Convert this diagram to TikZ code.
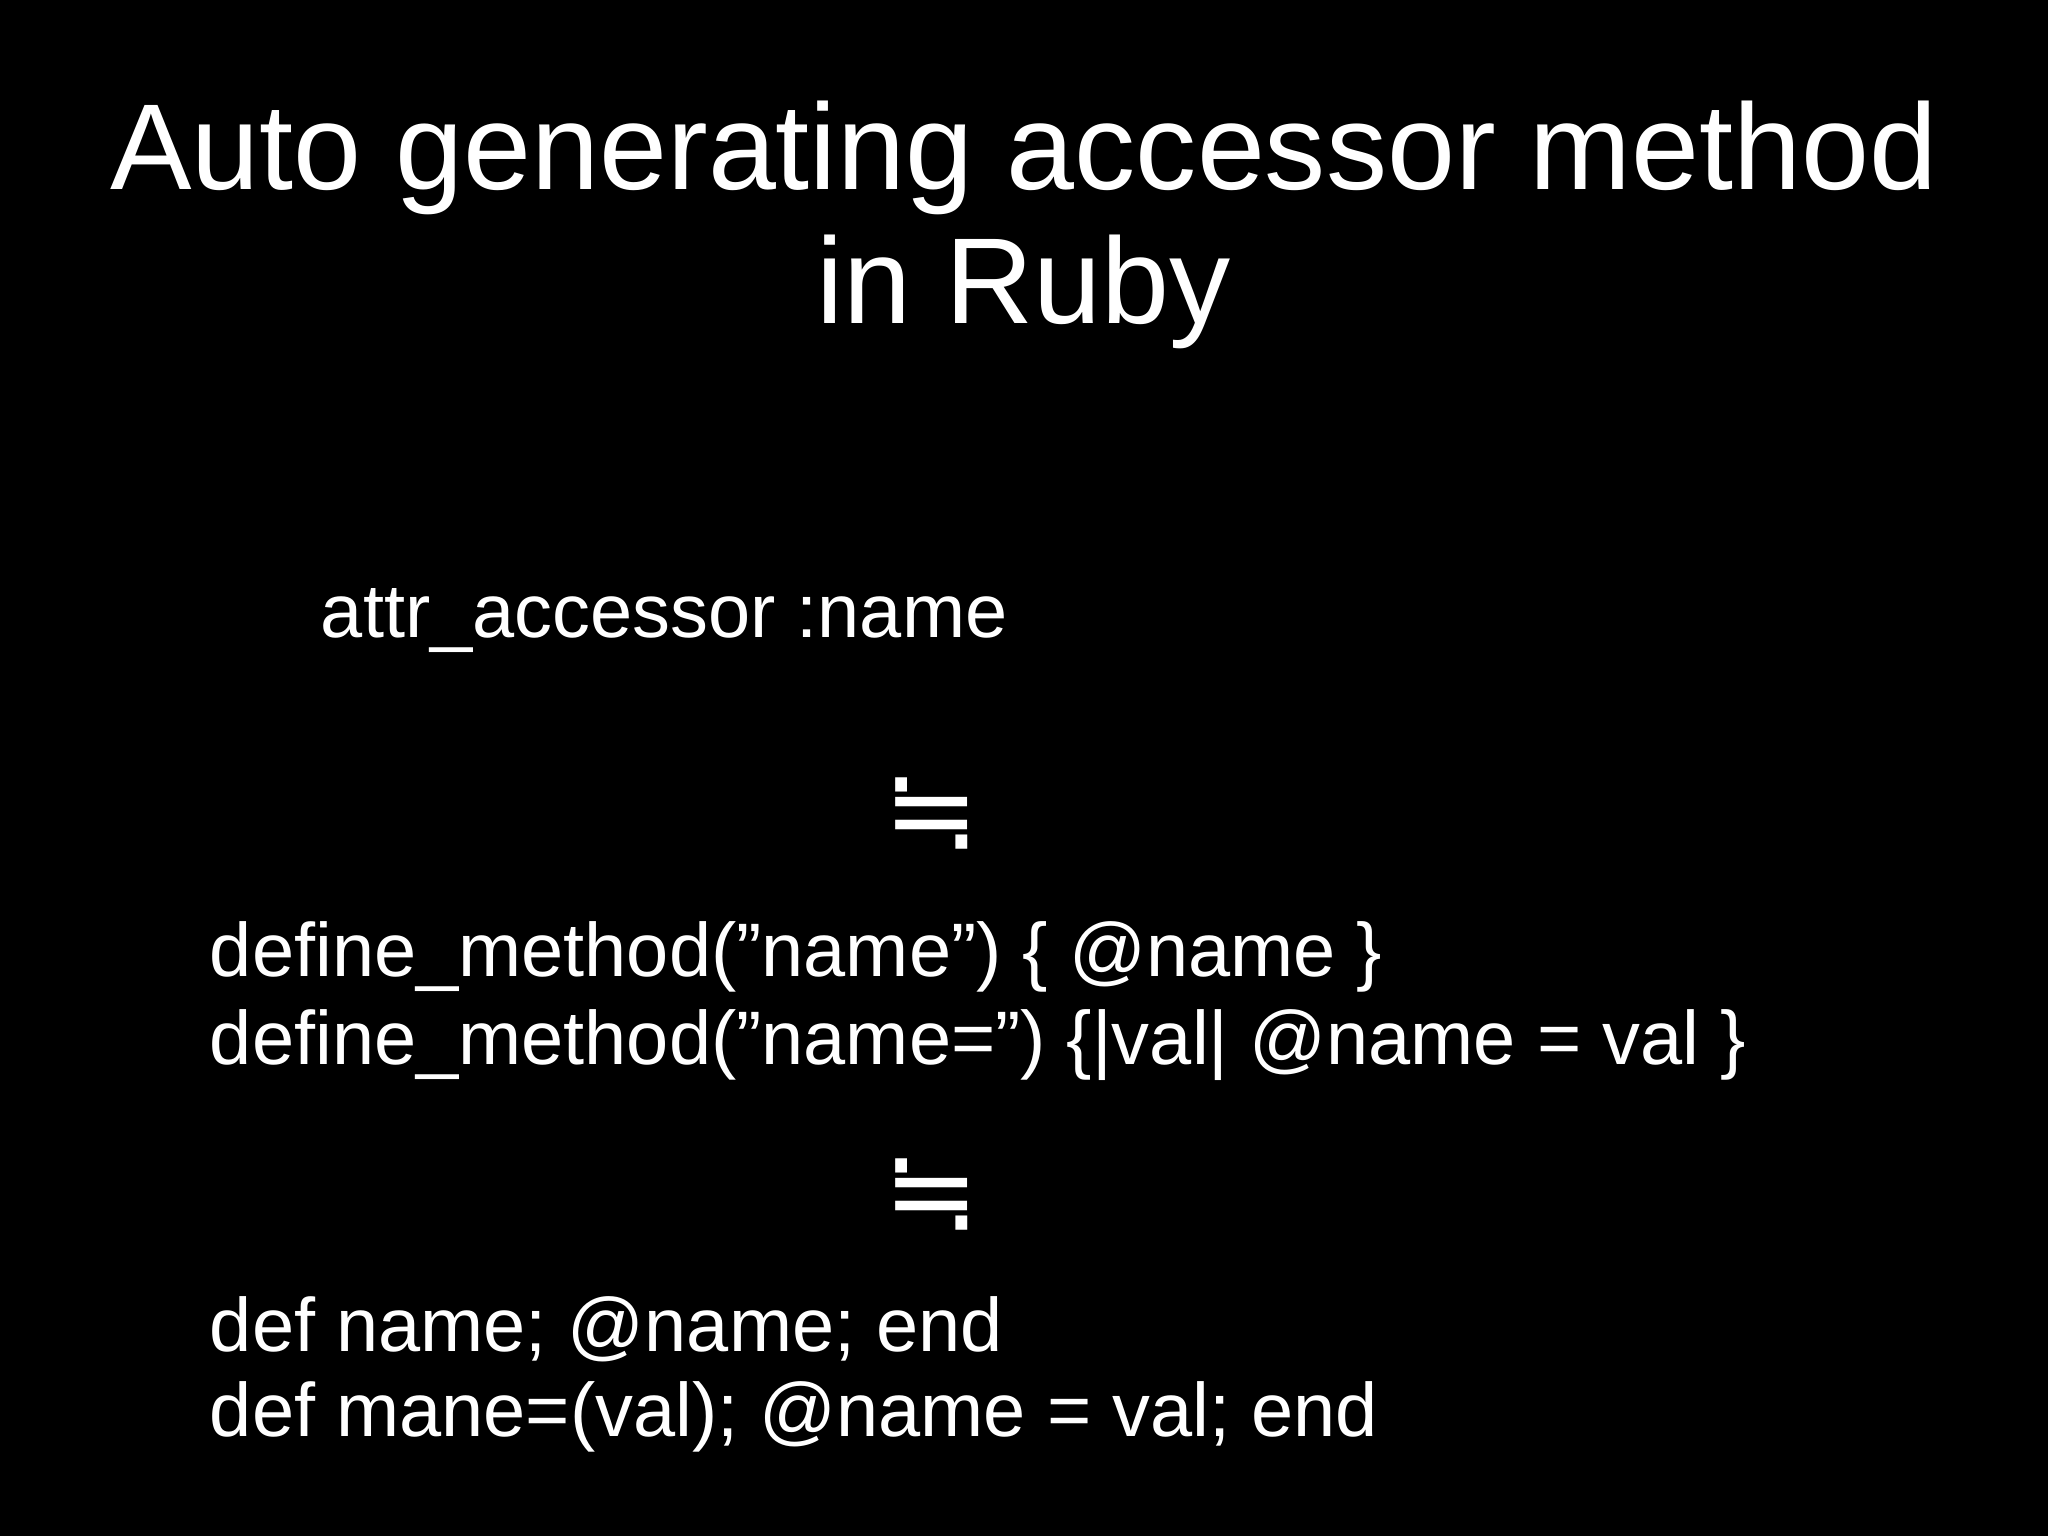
\documentclass[tikz,border=0pt]{standalone}
\usepackage{fontspec}
\setmainfont{Liberation Sans}
\newfontfamily\symfont{DejaVu Sans}
\begin{document}
\begin{tikzpicture}[x=0.01cm,y=-0.01cm,
  code/.style={anchor=base west,inner sep=0pt,text=white,font=\fontsize{16.5}{20}\selectfont},
  ttl/.style={anchor=base,inner sep=0pt,text=white,font=\fontsize{26.6}{30}\selectfont},
  eqsym/.style={inner sep=0pt,text=white,font=\symfont\fontsize{25}{30}\selectfont}]
\fill[black] (0,0) rectangle (1568,1176);
\useasboundingbox (0,0) rectangle (1568,1176);
\node[ttl] (t1) at (784,145) {Auto generating accessor method};
\node[ttl] (t2) at (784,248) {in Ruby};
\node[code] (a) at (245,488) {attr\_accessor :name};
\node[eqsym] (s1) at (713,623) {≒};
\node[code] (d1) at (160,748) {define\_method("name") \{ @name \}};
\node[code] (d2) at (160,815) {define\_method("name=") \{|val| @name = val \}};
\node[eqsym] (s2) at (713,915) {≒};
\node[code] (e1) at (160,1035) {def name; @name; end};
\node[code] (e2) at (160,1100) {def mane=(val); @name = val; end};
\end{tikzpicture}
\end{document}
